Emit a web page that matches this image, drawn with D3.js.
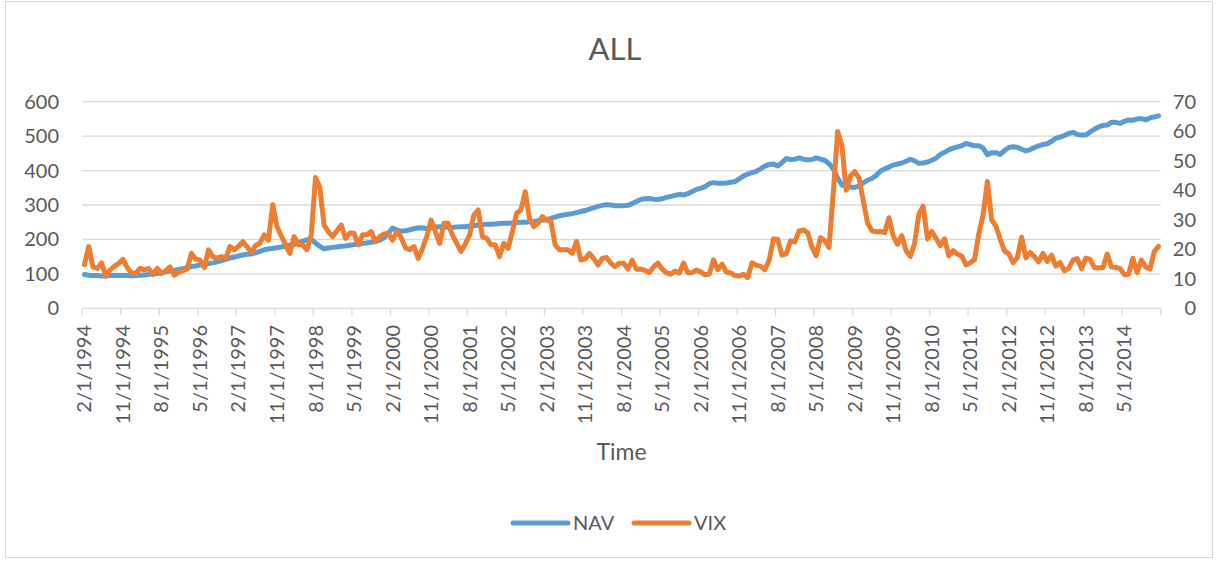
<html>
<head>
<title>ALL</title>
<style>
    body{ margin:0; background:#ffffff; }
    text{ font-family: Lato, "Open Sans", sans-serif; fill:#595959; }
    .grid{ stroke:#d9d9d9; stroke-width:1.3; }
</style>
<script src="https://d3js.org/d3.v7.min.js"></script>
</head>
<body>
<script>
var width = 1218, height = 561;

// monthly NAV, Feb 1994 .. Jan 2015
var navValues = [
    98, 96, 95, 95, 94, 94, 95, 95, 95, 95, 95, 94, 95, 96, 97, 98, 100, 101, 103, 106,
    108, 110, 113, 115, 118, 121, 123, 126, 128, 130, 132, 135, 138, 142, 146, 149, 152, 155, 157, 158,
    161, 165, 170, 172, 174, 176, 178, 180, 183, 186, 191, 195, 199, 200, 189, 180, 173, 175, 177, 178,
    180, 181, 183, 185, 186, 188, 190, 192, 194, 198, 205, 218, 233, 228, 224, 225, 228, 231, 234, 233,
    232, 234, 236, 237, 237, 235, 235, 236, 237, 237, 239, 240, 242, 243, 244, 244, 245, 246, 247, 247,
    248, 249, 250, 250, 251, 252, 254, 256, 258, 261, 265, 269, 271, 273, 275, 278, 281, 284, 288, 292,
    296, 299, 301, 300, 298, 298, 298, 299, 304, 310, 316, 318, 319, 317, 316, 318, 322, 325, 328, 331,
    329, 333, 339, 345, 349, 353, 362, 365, 363, 363, 364, 366, 368, 376, 384, 390, 394, 398, 405, 413,
    418, 419, 413, 423, 435, 432, 433, 437, 433, 431, 432, 437, 433, 430, 420, 405, 378, 358, 354, 352,
    351, 355, 364, 372, 377, 386, 398, 405, 410, 416, 419, 422, 427, 433, 428, 421, 422, 425, 430, 436,
    447, 453, 460, 465, 469, 472, 479, 475, 472, 472, 465, 446, 452, 452, 447, 458, 467, 469, 468, 462,
    457, 461, 467, 472, 476, 478, 485, 494, 497, 502, 508, 511, 505, 503, 503, 512, 520, 527, 531, 532,
    540, 540, 537, 543, 547, 546, 550, 551, 547, 553, 556, 559
];

// monthly VIX close, Feb 1994 .. Jan 2015
var vixValues = [
    14.8, 20.9, 14.0, 13.5, 15.4, 10.9, 13.0, 14.2, 15.2, 16.6, 13.8, 12.0, 11.8, 13.5, 13.0, 13.5, 11.5, 13.5, 11.8, 12.8,
    14.0, 11.2, 12.2, 12.8, 13.3, 18.6, 16.6, 16.4, 13.8, 19.8, 17.5, 16.9, 17.5, 16.9, 20.9, 19.8, 21.0, 22.6, 20.8, 19.0,
    21.3, 22.0, 24.9, 23.1, 35.1, 27.7, 24.5, 21.5, 18.6, 24.3, 21.5, 21.5, 19.8, 24.9, 44.3, 41.0, 28.2, 26.0, 24.3, 26.3,
    28.2, 23.7, 25.5, 25.4, 21.5, 24.9, 24.9, 26.0, 22.6, 24.3, 25.2, 25.4, 23.1, 26.0, 24.0, 20.5, 19.8, 20.9, 16.9, 20.3,
    24.3, 29.9, 26.0, 22.0, 28.8, 28.8, 24.8, 22.0, 19.2, 21.8, 24.8, 31.6, 33.3, 24.3, 23.7, 21.5, 21.5, 17.5, 22.0, 20.3,
    26.0, 32.2, 33.3, 39.5, 30.5, 27.7, 28.8, 31.1, 29.9, 29.6, 21.5, 19.8, 19.8, 19.8, 18.6, 22.6, 16.4, 16.7, 18.6, 16.9,
    14.7, 16.9, 17.2, 15.3, 14.1, 15.3, 15.3, 13.34, 16.27, 13.24, 13.29, 12.82, 12.08, 14.02, 15.31, 13.29, 12.04, 11.57, 12.6, 11.92,
    15.32, 12.06, 12.07, 12.95, 12.34, 11.39, 11.59, 16.44, 13.08, 14.95, 12.31, 11.98, 11.1, 10.91, 11.56, 10.42, 15.42, 14.64, 14.22, 13.05,
    16.23, 23.52, 23.38, 18.0, 18.53, 22.87, 22.5, 26.2, 26.54, 25.61, 20.79, 17.83, 23.95, 22.94, 20.65, 39.39, 59.89, 55.28, 40.0, 44.84,
    46.35, 44.14, 36.5, 28.92, 26.35, 25.92, 26.01, 25.61, 30.69, 24.51, 21.68, 24.62, 19.5, 17.59, 22.05, 32.07, 34.54, 23.5, 26.05, 23.7,
    21.2, 23.54, 17.75, 19.53, 18.35, 17.74, 14.75, 15.45, 16.52, 25.25, 31.62, 42.96, 29.96, 27.8, 23.4, 19.44, 18.43, 15.5, 17.15, 24.06,
    17.08, 18.93, 17.47, 15.73, 18.6, 15.87, 18.02, 14.28, 15.51, 12.7, 13.52, 16.3, 16.86, 13.45, 17.01, 16.6, 13.75, 13.7, 13.72, 18.41,
    14.0, 13.88, 13.41, 11.4, 11.57, 16.95, 12.09, 16.31, 14.03, 13.33, 19.2, 20.97
];

var leftTicks = [0, 100, 200, 300, 400, 500, 600];
var rightTicks = [0, 10, 20, 30, 40, 50, 60, 70];
var seriesNames = ["NAV", "VIX"];
var seriesColors = ["#5b9bd5", "#ed7d31"];
var labelStep = 9;   // a date label every 9 months

// category labels: first of each month from Feb 1994
var months = d3.timeMonth.range(new Date(1994, 1, 1), new Date(1994, 1 + navValues.length, 1));
var fmt = function(d){ return (d.getMonth() + 1) + "/1/" + d.getFullYear(); };

var svgContainer = d3.select("body").append("svg")
                     .attr("width", width)
                     .attr("height", height);

svgContainer.append("rect")
    .attr("x", 5.5).attr("y", 1.5)
    .attr("width", 1207).attr("height", 556)
    .attr("fill", "#ffffff")
    .attr("stroke", "#d9d9d9").attr("stroke-width", 1);

var plotL = 82.3, plotR = 1160.7, plotT = 101.7, plotB = 308.3;
var n = navValues.length;

var x = d3.scaleLinear().domain([0, n]).range([plotL, plotR]);
var yL = d3.scaleLinear().domain([0, 600]).range([plotB, plotT]);
var yR = d3.scaleLinear().domain([0, 70]).range([plotB, plotT]);

// title
svgContainer.append("text")
    .attr("x", 615).attr("y", 60)
    .attr("text-anchor", "middle")
    .style("font-size", "31px")
    .text("ALL");

// gridlines
svgContainer.selectAll(".grid").data(leftTicks.slice(1)).enter()
    .append("line").attr("class", "grid")
    .attr("x1", plotL).attr("x2", plotR)
    .attr("y1", function(d){ return yL(d); })
    .attr("y2", function(d){ return yL(d); });

// left axis labels
svgContainer.selectAll(".ylab").data(leftTicks).enter()
    .append("text").attr("class", "ylab")
    .attr("x", 59)
    .attr("y", function(d){ return yL(d); })
    .attr("dy", "0.35em")
    .attr("text-anchor", "end")
    .style("font-size", "20px")
    .text(function(d){ return d; });

// right axis labels
svgContainer.selectAll(".rlab").data(rightTicks).enter()
    .append("text").attr("class", "rlab")
    .attr("x", 1196)
    .attr("y", function(d){ return yR(d); })
    .attr("dy", "0.35em")
    .attr("text-anchor", "end")
    .style("font-size", "20px")
    .text(function(d){ return d; });

// category axis line + ticks
var tickIdx = d3.range(0, n, labelStep).concat([n]);
svgContainer.append("line")
    .attr("x1", plotL).attr("x2", plotR)
    .attr("y1", plotB).attr("y2", plotB)
    .attr("stroke", "#d9d9d9").attr("stroke-width", 1.3);
svgContainer.selectAll(".xtick").data(tickIdx).enter()
    .append("line").attr("class", "xtick")
    .attr("x1", function(d){ return x(d); })
    .attr("x2", function(d){ return x(d); })
    .attr("y1", plotB).attr("y2", plotB + 7)
    .attr("stroke", "#d9d9d9").attr("stroke-width", 1.3);

svgContainer.selectAll(".xlab").data(d3.range(0, n, labelStep)).enter()
    .append("text").attr("class", "xlab")
    .attr("transform", function(d){ return "translate(" + x(d + 0.5) + "," + 325 + ") rotate(-90)"; })
    .attr("dy", "0.35em")
    .attr("text-anchor", "end")
    .style("font-size", "20px")
    .text(function(d){ return fmt(months[d]); });

svgContainer.append("text")
    .attr("x", (plotL + plotR) / 2).attr("y", 460)
    .attr("text-anchor", "middle")
    .style("font-size", "23px")
    .text("Time");

// series
var navLine = d3.line()
    .x(function(d, i){ return x(i + 0.5); })
    .y(function(d){ return yL(d); });
var vixLine = d3.line()
    .x(function(d, i){ return x(i + 0.5); })
    .y(function(d){ return yR(d); });

svgContainer.append("path")
    .attr("d", navLine(navValues))
    .attr("fill", "none")
    .attr("stroke", seriesColors[0])
    .attr("stroke-width", 5)
    .attr("stroke-linejoin", "round")
    .attr("stroke-linecap", "round");

svgContainer.append("path")
    .attr("d", vixLine(vixValues))
    .attr("fill", "none")
    .attr("stroke", seriesColors[1])
    .attr("stroke-width", 5)
    .attr("stroke-linejoin", "round")
    .attr("stroke-linecap", "round");

// legend
var legendX = [513, 634];
for(var k = 0; k < seriesNames.length; k++){
    svgContainer.append("line")
        .attr("x1", legendX[k]).attr("x2", legendX[k] + 55)
        .attr("y1", 523).attr("y2", 523)
        .attr("stroke", seriesColors[k])
        .attr("stroke-width", 5)
        .attr("stroke-linecap", "round");
    svgContainer.append("text")
        .attr("x", legendX[k] + 60).attr("y", 530)
        .style("font-size", "20px")
        .text(seriesNames[k]);
}
</script>
</body>
</html>
